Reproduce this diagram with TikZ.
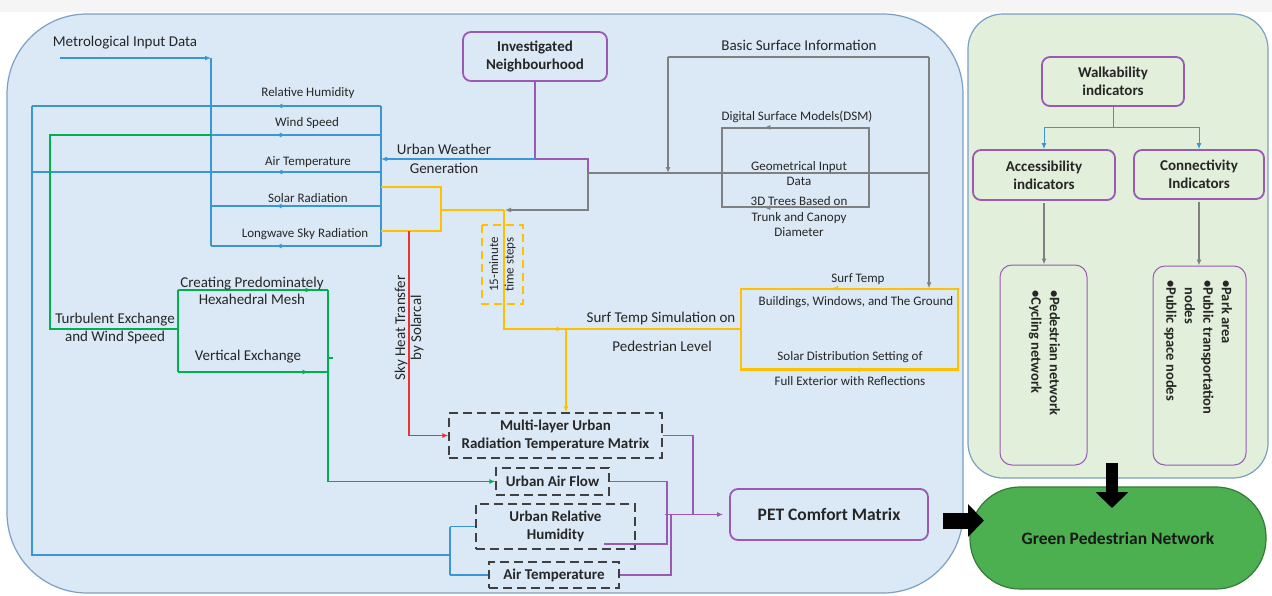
\documentclass[tikz,border=0pt]{standalone}
\usepackage{fontspec}
\setmainfont{Carlito}
\usetikzlibrary{positioning,arrows.meta,decorations.markings}

\definecolor{panelblue}{RGB}{219,233,246}
\definecolor{panelgreen}{RGB}{226,239,218}
\definecolor{paneledge}{RGB}{122,160,196}
\definecolor{linkblue}{RGB}{58,150,214}
\definecolor{linkgreen}{RGB}{0,176,80}
\definecolor{linkyellow}{RGB}{255,192,0}
\definecolor{linkred}{RGB}{240,48,48}
\definecolor{linkgray}{RGB}{128,128,128}
\definecolor{boxpurple}{RGB}{155,89,182}
\definecolor{netgreen}{RGB}{76,175,80}
\definecolor{txt}{RGB}{38,38,38}

\begin{document}
\begin{tikzpicture}[x=1pt, y=-1pt,
  lbl/.style={font=\fontsize{15}{18}\selectfont, text=txt, inner sep=0pt, align=center},
  slbl/.style={font=\fontsize{13}{15.5}\selectfont, text=txt, inner sep=0pt, align=center},
  pbox/.style={draw=boxpurple, line width=1.8pt, rounded corners=8pt, text=txt, align=center,
               font=\bfseries\fontsize{15}{18}\selectfont, inner sep=0pt},
  dbox/.style={draw=black!75, line width=1.4pt, dash pattern=on 9pt off 5pt, text=txt, align=center,
               font=\bfseries\fontsize{15}{18}\selectfont, inner sep=0pt},
  listbox/.style={draw=boxpurple, line width=1pt, rounded corners=12pt, inner sep=0pt},
  listtxt/.style={rotate=-90, anchor=west, align=left, inner sep=0pt, text=txt,
                  font=\bfseries\fontsize{14.5}{18.5}\selectfont},
  ln/.style={line width=1.5pt, draw=#1},
  tip/.style={-{Latex[length=6pt,width=5pt]}},
  midtip/.style={postaction={decorate}, decoration={markings,
                 mark=at position #1 with {\arrow{Latex[length=6pt,width=5pt]}}}},
  blockarr/.style={draw=black, line width=#1, -{Triangle[length=16pt,width=32pt]}}
]
  \useasboundingbox (0,0) rectangle (1272,595);
  \fill[white] (0,0) rectangle (1272,595);
  \fill[black!4] (0,0) rectangle (1272,12);

  % panels
  \draw[paneledge, fill=panelblue, line width=1.2pt, rounded corners=80pt] (7,14) rectangle (963,593);
  \draw[paneledge, fill=panelgreen, line width=1.2pt, rounded corners=35pt] (968,14) rectangle (1268,478);

  % meteorological input and weather bus
  \node[lbl] (met) at (125,43) {Metrological Input Data};
  \coordinate (metL) at (60,58);
  \coordinate (metC) at (211,58);
  \draw[ln=linkblue, tip] (metL) -- (metC);
  \draw[ln=linkblue] (metC) -- (211,246);

  \coordinate (busT) at (381,106);
  \coordinate (busB) at (381,246);
  \draw[ln=linkblue] (busT) -- (busB);
  \coordinate (leftT) at (32,106);
  \coordinate (leftB) at (32,555);
  \draw[ln=linkblue, midtip=0.3] (busT) -- (leftT);
  \draw[ln=linkblue, midtip=0.62] (381,135) -- (211,135);
  \draw[ln=linkblue, midtip=0.3] (381,172) -- (32,172);
  \draw[ln=linkblue, midtip=0.62] (381,206) -- (211,206);
  \draw[ln=linkblue, midtip=0.62] (busB) -- (211,246);

  \node[slbl] (lhum) at (308,93) {Relative Humidity};
  \node[slbl] (lwind) at (307,123) {Wind Speed};
  \node[slbl] (ltemp) at (308,162) {Air Temperature};
  \node[slbl] (lsolar) at (308,198) {Solar Radiation};
  \node[slbl] (llong) at (305,234) {Longwave Sky Radiation};

  % investigated neighbourhood and urban weather generation
  \node[pbox, minimum width=144pt, minimum height=49pt] (inv) at (535,56.5) {Investigated\\Neighbourhood};
  \coordinate (invJ) at (535,159);
  \coordinate (gJ) at (588,173);
  \draw[ln=boxpurple] (inv.south) -- (invJ) -- (588,159) -- (gJ);
  \draw[ln=linkblue, tip] (invJ) -- (381,159);
  \node[lbl, font=\fontsize{15}{19}\selectfont] (uwg) at (444,158.5) {Urban Weather\\Generation};

  % basic surface information
  \node[lbl] (bsi) at (799,45) {Basic Surface Information};
  \coordinate (bsL) at (668,57);
  \coordinate (bsR) at (929,57);
  \draw[ln=linkgray] (bsL) -- (bsR);
  \draw[ln=linkgray, tip] (bsL) -- (668,173);
  \draw[ln=linkgray] (gJ) -- (929,173);

  \node[draw=linkgray, line width=1.3pt, minimum width=147pt, minimum height=79pt, inner sep=0pt] (dsmbox) at (795.5,167.5) {};
  \draw[ln=linkgray, line width=1.3pt, midtip=0.71] (dsmbox.north east) -- (dsmbox.north west);
  \draw[ln=linkgray, line width=1.3pt, midtip=0.71] (dsmbox.south east) -- (dsmbox.south west);
  \node[slbl] (dsm) at (797,117) {Digital Surface Models(DSM)};
  \node[slbl] (geo) at (799,173.5) {Geometrical Input\\Data};
  \node[slbl] (trees) at (799,217) {3D Trees Based on\\Trunk and Canopy\\Diameter};

  % surface temperature
  \node[draw=linkyellow, line width=1.5pt, minimum width=217pt, minimum height=80pt, inner sep=0pt] (surf) at (849.5,329) {};
  \draw[ln=linkyellow, midtip=0.58] (surf.north east) -- (surf.north west);
  \draw[ln=linkyellow, midtip=0.48] (surf.south east) -- (surf.south west);
  \draw[ln=linkgray, tip] (bsR) -- (bsR |- surf.north);
  \node[slbl] (stemp) at (858,279) {Surf Temp};
  \node[slbl] (bwg) at (856,302) {Buildings, Windows, and The Ground};
  \node[slbl] (sds) at (850,357) {Solar Distribution Setting of};
  \node[slbl] (fer) at (850,381) {Full Exterior with Reflections};
  \node[lbl] (stsim) at (661,318) {Surf Temp Simulation on};
  \node[lbl] (pedl) at (662,346) {Pedestrian Level};

  % output matrices
  \node[dbox, minimum width=213pt, minimum height=45pt] (mlu) at (555.5,435.5) {Multi-layer Urban\\Radiation Temperature Matrix};
  \node[dbox, minimum width=113pt, minimum height=27pt] (uaf) at (552.5,481.5) {Urban Air Flow};
  \node[dbox, minimum width=159pt, minimum height=45pt] (urh) at (555.5,526.5) {Urban Relative\\Humidity};
  \node[dbox, minimum width=130pt, minimum height=26pt] (atp) at (554,575) {Air Temperature};

  % solar radiation feed
  \coordinate (yA) at (381,187);
  \coordinate (yB) at (441,187);
  \coordinate (yC) at (441,231);
  \coordinate (yD) at (381,231);
  \draw[ln=linkyellow] (yA) -- (yB) -- (yC) -- (yD);
  \coordinate (yM) at (441,210);
  \coordinate (ySplit) at (504,210);
  \coordinate (yDown) at (504,329);
  \coordinate (yJ) at (566,329);
  \draw[ln=linkyellow] (yM) -- (ySplit);
  \draw[ln=linkyellow, midtip=0.5] (ySplit) -- (yDown) -- (surf.west);
  \draw[ln=linkyellow, tip] (yJ) -- (yJ |- mlu.north);
  \draw[ln=linkgray, tip, shorten >=1pt] (gJ) -- (588,210) -- (ySplit);
  \node[draw=linkyellow, line width=1.5pt, dash pattern=on 8pt off 5pt, rotate=90, minimum width=79pt,
        minimum height=41pt, slbl] (steps) at (502.5,264.5) {15-minute\\time steps};

  % sky heat transfer
  \coordinate (rTop) at (409,231);
  \coordinate (rBot) at (409,435.5);
  \draw[ln=linkred, tip] (rTop) -- (rBot) -- (mlu.west);
  \node[lbl, rotate=90, font=\fontsize{15}{16}\selectfont] (sky) at (409,328) {Sky Heat Transfer\\by Solarcal};

  % wind and mesh
  \coordinate (gWs) at (211,135);
  \coordinate (gL) at (50,135);
  \coordinate (gLB) at (50,329);
  \coordinate (gMid) at (178,329);
  \coordinate (gT) at (178,290);
  \coordinate (gB) at (178,372);
  \coordinate (gTR) at (328,290);
  \coordinate (gBR) at (328,372);
  \draw[ln=linkgreen] (gWs) -- (gL) -- (gLB) -- (gMid);
  \draw[ln=linkgreen] (gT) -- (gB);
  \draw[ln=linkgreen, midtip=0.89] (gT) -- (gTR);
  \draw[ln=linkgreen, midtip=0.87] (gB) -- (gBR);
  \draw[ln=linkgreen, tip] (gTR) -- (gTR |- uaf.west) -- (uaf.west);
  \draw[ln=linkgreen] (328,358) -- (333,358);
  \node[lbl, font=\fontsize{15}{17}\selectfont] (mesh) at (252,290.5) {Creating Predominately\\Hexahedral Mesh};
  \node[lbl] (turb) at (115,328) {Turbulent Exchange\\and Wind Speed};
  \node[lbl] (vex) at (248,357) {Vertical Exchange};

  % humidity and temperature feed
  \coordinate (splitT) at (450,526.5);
  \coordinate (splitM) at (450,555);
  \coordinate (splitB) at (450,575);
  \draw[ln=linkblue] (leftT) -- (leftB) -- (splitM);
  \draw[ln=linkblue] (splitT) -- (splitB);
  \draw[ln=linkblue] (splitT) -- (urh.west);
  \draw[ln=linkblue] (splitB) -- (atp.west);

  % comfort matrix
  \node[pbox, minimum width=198pt, minimum height=51pt, font=\bfseries\fontsize{17.5}{20}\selectfont] (pet) at (829,514.5) {PET Comfort Matrix};
  \coordinate (pA) at (693,435.5);
  \coordinate (pB) at (693,514.5);
  \coordinate (pJ) at (665,514.5);
  \draw[ln=boxpurple] (mlu.east) -- (pA) -- (pB);
  \draw[ln=boxpurple, tip, shorten >=6pt] (pJ) -- (pet.west);
  \draw[ln=boxpurple] (uaf.east) -- (667,481.5) -- (667,544) -- (604,544);
  \draw[ln=boxpurple] (atp.east) -- (671,575) -- (671,514.5);

  % walkability
  \node[pbox, minimum width=142pt, minimum height=49pt] (walk) at (1113,81.5) {Walkability\\indicators};
  \node[pbox, minimum width=142pt, minimum height=50pt] (acc) at (1044,175) {Accessibility\\indicators};
  \node[pbox, minimum width=130pt, minimum height=49pt] (con) at (1199,174.5) {Connectivity\\Indicators};
  \coordinate (wJ) at (1113,127);
  \draw[ln=linkblue, line width=1pt] (walk.south) -- (wJ);
  \draw[ln=linkblue, line width=1pt, tip] (wJ) -| (acc.north);
  \draw[ln=linkblue, line width=1pt, tip] (wJ) -| (con.north);

  \node[listbox, minimum width=87pt, minimum height=200pt] (ped) at (1043.5,365) {};
  \node[listbox, minimum width=93pt, minimum height=199pt] (pub) at (1199.5,365.5) {};
  \node[listtxt] (pedtxt) at (1044.5,290) {\textbullet Pedestrian network\\\textbullet Cycling network};
  \node[listtxt] (pubtxt) at (1198,280) {\textbullet Park area\\\textbullet Public transportation\\\phantom{\textbullet}nodes\\\textbullet Public space nodes};
  \draw[ln=linkgray, line width=1.2pt, tip, shorten <=2pt] (acc.south) -- (acc.south |- ped.north);
  \draw[ln=linkgray, line width=1.2pt, tip, shorten <=2pt] (con.south) -- (con.south |- pub.north);

  % green pedestrian network
  \node[draw=netgreen!70!black, fill=netgreen, line width=1.2pt, rounded corners=50pt, minimum width=296pt,
        minimum height=102pt, font=\bfseries\fontsize{17.5}{20}\selectfont, text=black!90] (gpn) at (1118,538) {Green Pedestrian Network};
  \coordinate (bA) at (943,520.5);
  \coordinate (bB) at (984,520.5);
  \draw[blockarr=16pt] (bA) -- (bB);
  \coordinate (dA) at (1112,463);
  \coordinate (dB) at (1112,508);
  \draw[blockarr=12pt] (dA) -- (dB);
\end{tikzpicture}
\end{document}
